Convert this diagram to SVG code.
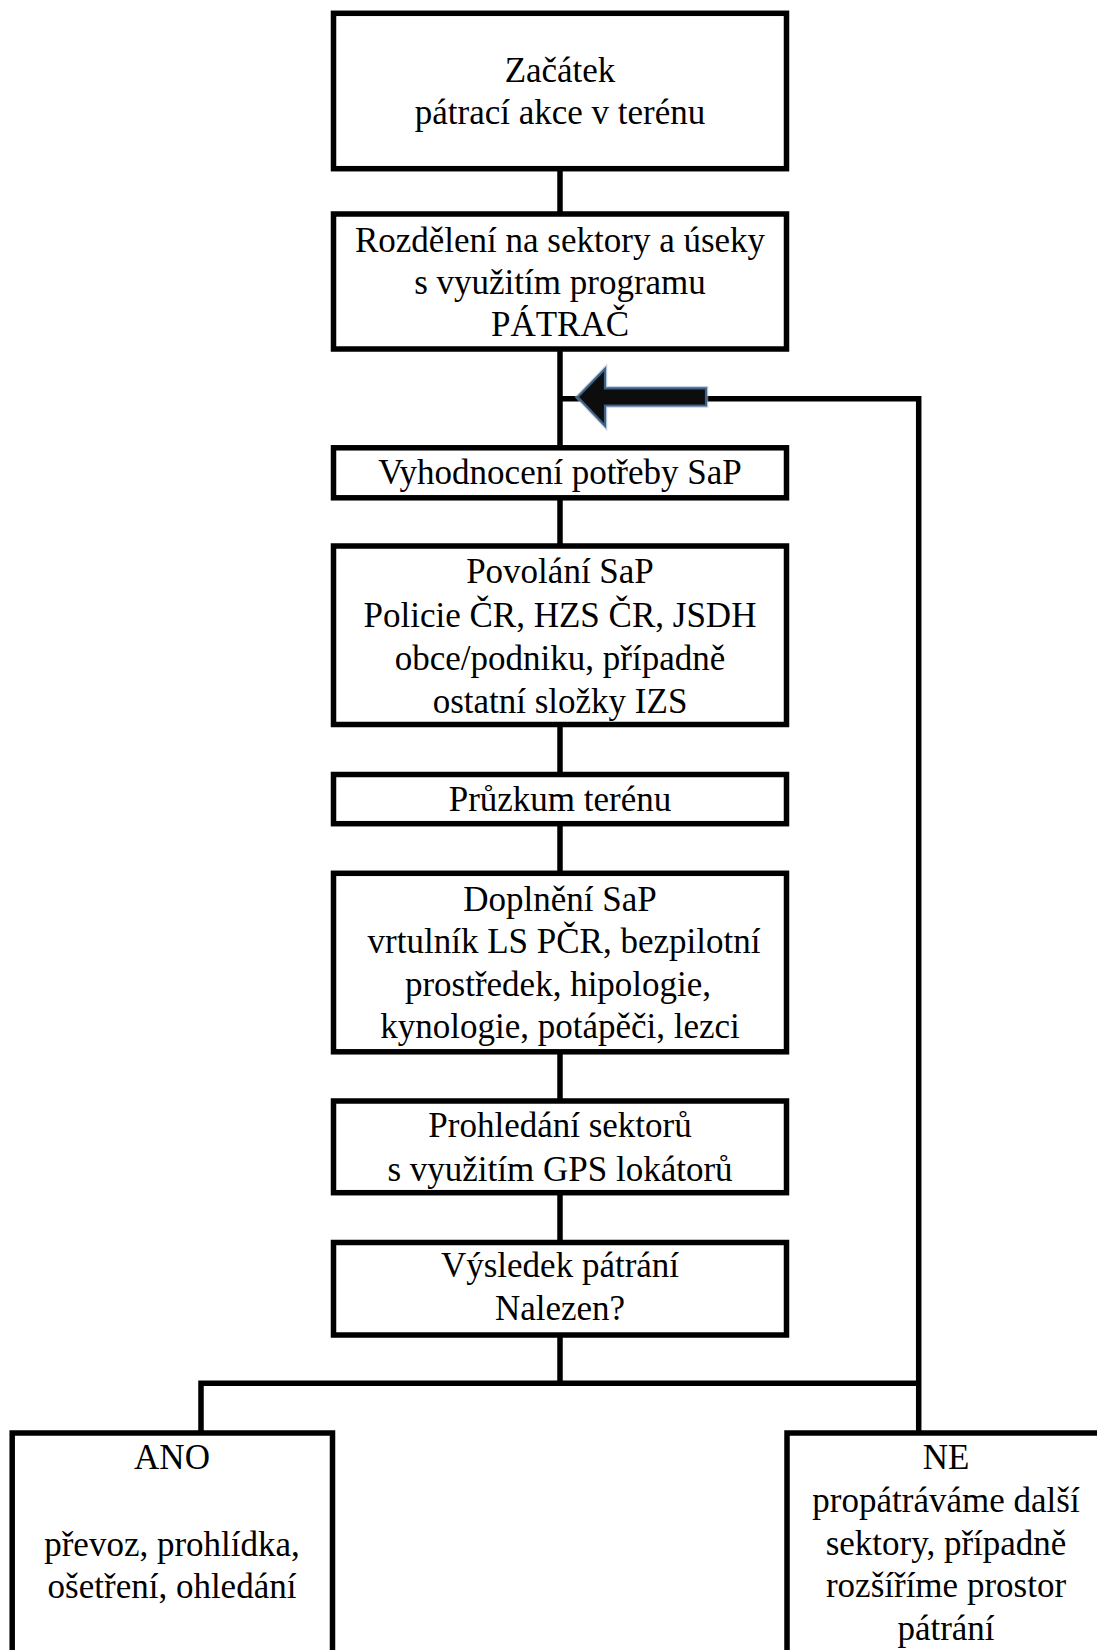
<svg xmlns="http://www.w3.org/2000/svg" width="1097" height="1650" viewBox="0 0 1097 1650">
<style>
.box{fill:#fff;stroke:#000;stroke-width:5.5}
.ln{stroke:#000;stroke-width:5.5;fill:none;stroke-linecap:butt}
text{font-family:"Liberation Serif","Times New Roman",serif;font-size:35px;fill:#000;text-anchor:middle}
</style>
<rect width="1097" height="1650" fill="#fff"/>
<g id="connectors">
<line class="ln" x1="560" y1="168" x2="560" y2="215"/>
<line class="ln" x1="560" y1="348" x2="560" y2="449"/>
<line class="ln" x1="560" y1="497" x2="560" y2="547"/>
<line class="ln" x1="560" y1="724" x2="560" y2="775"/>
<line class="ln" x1="560" y1="823" x2="560" y2="874"/>
<line class="ln" x1="560" y1="1051" x2="560" y2="1102"/>
<line class="ln" x1="560" y1="1192" x2="560" y2="1243"/>
<line class="ln" x1="560" y1="1335" x2="560" y2="1384"/>
<polyline class="ln" points="201,1434 201,1383.3 918.7,1383.3"/>
<polyline class="ln" points="560,398.8 918.7,398.8 918.7,1434"/>
<polygon points="577.7,397 605,369 605,388.3 706,388.3 706,405.5 605,405.5 605,425.7" fill="none" stroke="#9db3c9" stroke-width="4.5" stroke-opacity="0.6" stroke-linejoin="miter"/>
<polygon points="577.7,397 605,369 605,388.3 706,388.3 706,405.5 605,405.5 605,425.7" fill="#0d0d0d" stroke="#3f6186" stroke-width="2.2" stroke-linejoin="miter"/>
</g>
<g id="n1"><rect class="box" x="333.5" y="13.3" width="453" height="155.4"/>
<text x="560" y="81.7">Začátek</text><text x="560" y="124">pátrací akce v terénu</text></g>
<g id="n2"><rect class="box" x="333.5" y="214" width="453" height="135"/>
<text x="560" y="251.7">Rozdělení na sektory a úseky</text><text x="560" y="293.7">s využitím programu</text><text x="560" y="336">PÁTRAČ</text></g>
<g id="n3"><rect class="box" x="333.5" y="447.8" width="453" height="50"/>
<text x="560" y="484.3">Vyhodnocení potřeby SaP</text></g>
<g id="n4"><rect class="box" x="333.5" y="546" width="453" height="178.5"/>
<text x="560" y="583.3">Povolání SaP</text><text x="560" y="626.7">Policie ČR, HZS ČR, JSDH</text><text x="560" y="670">obce/podniku, případně</text><text x="560" y="713.3">ostatní složky IZS</text></g>
<g id="n5"><rect class="box" x="333.5" y="774.5" width="453" height="49.2"/>
<text x="560" y="810.7">Průzkum terénu</text></g>
<g id="n6"><rect class="box" x="333.5" y="873.3" width="453" height="178.5"/>
<text x="560" y="910.7">Doplnění SaP</text><text x="564" y="953.3">vrtulník LS PČR, bezpilotní</text><text x="558" y="996">prostředek, hipologie,</text><text x="560" y="1038.3">kynologie, potápěči, lezci</text></g>
<g id="n7"><rect class="box" x="333.5" y="1101" width="453" height="91.7"/>
<text x="560" y="1136.7">Prohledání sektorů</text><text x="560" y="1180.7">s využitím GPS lokátorů</text></g>
<g id="n8"><rect class="box" x="333.5" y="1242.5" width="453" height="92.5"/>
<text x="560" y="1276.7">Výsledek pátrání</text><text x="560" y="1320">Nalezen?</text></g>
<g id="n9"><rect class="box" x="12.2" y="1433" width="320.3" height="300"/>
<text x="172" y="1469.3">ANO</text><text x="172" y="1555.7">převoz, prohlídka,</text><text x="172" y="1598.3">ošetření, ohledání</text></g>
<g id="n10"><rect class="box" x="787" y="1433" width="400" height="300"/>
<text x="946" y="1469.3">NE</text><text x="946" y="1512">propátráváme další</text><text x="946" y="1554.5">sektory, případně</text><text x="946" y="1597">rozšíříme prostor</text><text x="946" y="1639.6">pátrání</text></g>
</svg>
